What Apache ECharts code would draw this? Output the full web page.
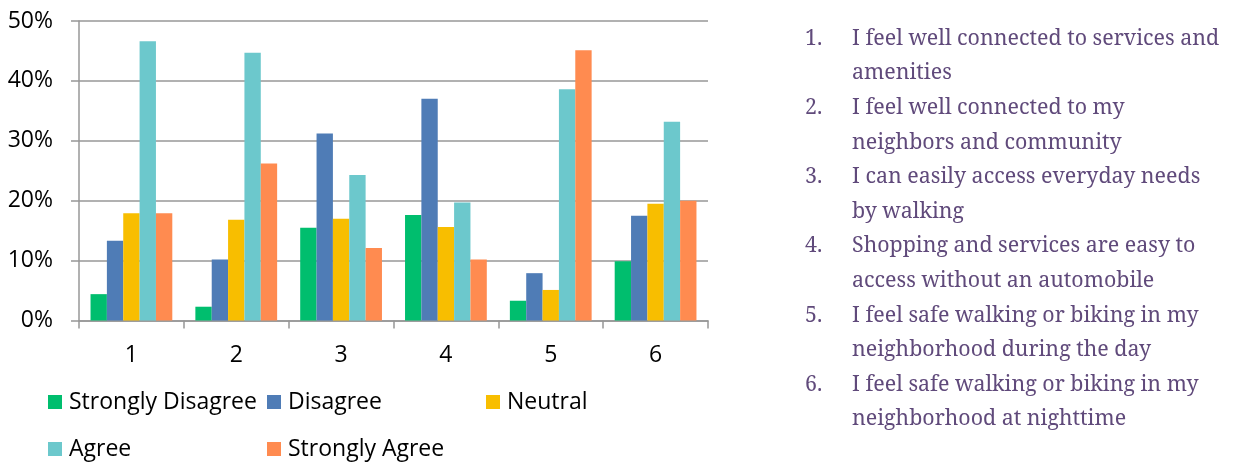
<!DOCTYPE html>
<html>
<head>
<meta charset="utf-8">
<script src="https://cdn.jsdelivr.net/npm/echarts@6/dist/echarts.min.js"></script>
<style>
  html, body { margin: 0; padding: 0; background: #fff; }
  #chart { width: 1233px; height: 462px; }
</style>
</head>
<body>
<div id="chart"></div>
<script>
// Survey statements (x-axis categories 1..6)
const categories = ['1', '2', '3', '4', '5', '6'];

// Share of responses per statement
const stronglyDisagree = [0.044, 0.023, 0.155, 0.176, 0.033, 0.099];
const disagree         = [0.133, 0.102, 0.312, 0.370, 0.079, 0.175];
const neutral          = [0.179, 0.168, 0.170, 0.156, 0.051, 0.195];
const agree            = [0.466, 0.447, 0.243, 0.197, 0.386, 0.332];
const stronglyAgree    = [0.179, 0.262, 0.121, 0.102, 0.451, 0.200];

const seriesNames = ['Strongly Disagree', 'Disagree', 'Neutral', 'Agree', 'Strongly Agree'];
const seriesValues = [stronglyDisagree, disagree, neutral, agree, stronglyAgree];
const seriesColors = ['#00BE6E', '#4F7CB6', '#F8BE00', '#6CC8CC', '#FF8B50'];

const yTicks = [0, 0.1, 0.2, 0.3, 0.4, 0.5];

// Key explaining the numbered statements
const statementLines = [
  ['I feel well connected to services and', 'amenities'],
  ['I feel well connected to my', 'neighbors and community'],
  ['I can easily access everyday needs', 'by walking'],
  ['Shopping and services are easy to', 'access without an automobile'],
  ['I feel safe walking or biking in my', 'neighborhood during the day'],
  ['I feel safe walking or biking in my', 'neighborhood at nighttime']
];

const sansFont = '"Open Sans", Lato, sans-serif';
const serifFont = '"Noto Serif", "DejaVu Serif Condensed", serif';
const gridGray = '#979797';

const keyGraphics = [];
const keyLineHeight = 34.6;
statementLines.forEach((lines, i) => {
  const top = 21.5 + i * 2 * keyLineHeight;
  keyGraphics.push({
    type: 'text', left: 805, top: top,
    style: { text: (i + 1) + '.', font: '21.4px ' + serifFont, fill: '#604A7B', lineHeight: keyLineHeight }
  });
  keyGraphics.push({
    type: 'text', left: 852, top: top,
    style: { text: lines.join('\n'), font: '21.4px ' + serifFont, fill: '#604A7B', lineHeight: keyLineHeight }
  });
});

// Legend laid out as a 3-column grid: one vertical legend per column
const legendText = { fontFamily: sansFont, fontSize: 23, color: '#000', lineHeight: 24, padding: [0, 0, 0, 2] };
const legendBase = {
  orient: 'vertical', top: 390, padding: 0, itemWidth: 14, itemHeight: 14, itemGap: 23,
  icon: 'rect', textStyle: legendText, selectedMode: false
};

const chart = echarts.init(document.getElementById('chart'), null, { renderer: 'canvas' });
chart.setOption({
  animation: false,
  backgroundColor: '#fff',
  color: seriesColors,
  grid: { left: 79, right: 525, top: 21, bottom: 141.5, containLabel: false },
  legend: [
    Object.assign({ left: 48, data: ['Strongly Disagree', 'Agree'] }, legendBase),
    Object.assign({ left: 267, data: ['Disagree', 'Strongly Agree'] }, legendBase),
    Object.assign({ left: 486, data: ['Neutral'] }, legendBase)
  ],
  xAxis: {
    type: 'category',
    data: categories,
    boundaryGap: true,
    axisLine: { show: true, lineStyle: { color: gridGray, width: 1.5 } },
    axisTick: { show: true, length: 8, alignWithLabel: false, lineStyle: { color: gridGray, width: 1.5 } },
    axisLabel: { margin: 23, fontFamily: sansFont, fontSize: 23, color: '#000' }
  },
  yAxis: {
    type: 'value',
    min: yTicks[0],
    max: yTicks[yTicks.length - 1],
    interval: 0.1,
    axisLine: { show: true, lineStyle: { color: gridGray, width: 1.5 } },
    axisTick: { show: true, length: 8, lineStyle: { color: gridGray, width: 1.5 } },
    splitLine: { show: true, lineStyle: { color: gridGray, width: 1.5 } },
    axisLabel: {
      margin: 26, fontFamily: sansFont, fontSize: 23, color: '#000',
      formatter: v => Math.round(v * 100) + '%'
    }
  },
  series: seriesNames.map((name, i) => ({
    name: name,
    type: 'bar',
    data: seriesValues[i],
    barGap: '0%',
    barCategoryGap: '22%',
    itemStyle: { color: seriesColors[i] }
  })),
  graphic: keyGraphics
});
</script>
</body>
</html>
